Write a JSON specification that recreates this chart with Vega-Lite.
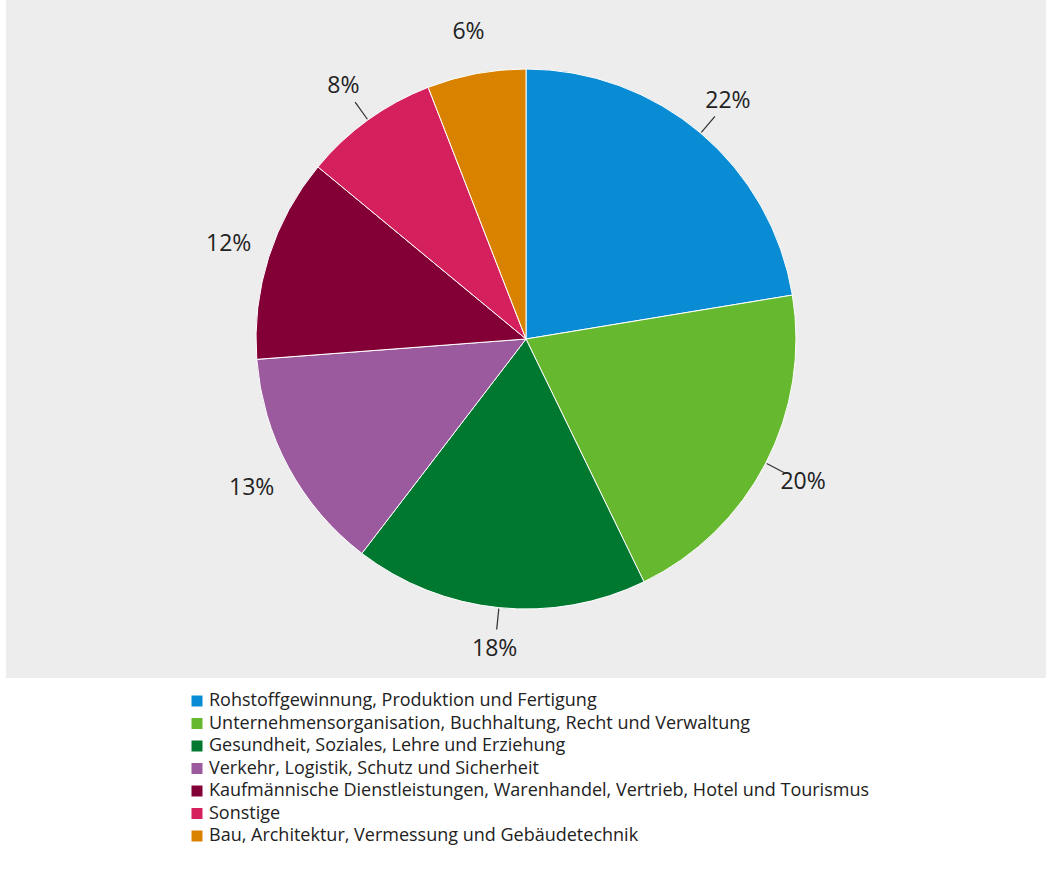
{
  "$schema": "https://vega.github.io/schema/vega-lite/v6.json",
  "autosize": {"type": "none"},
  "padding": {"left": 6, "top": 0, "right": 13, "bottom": 198},
  "width": 1040,
  "height": 678,
  "background": "white",
  "view": {"fill": "#ededed", "stroke": null},
  "config": {
    "font": "Open Sans"
  },
  "data": {
    "values": [
      {"k": 1, "cat": "Rohstoffgewinnung, Produktion und Fertigung", "v": 0.224},
      {"k": 2, "cat": "Unternehmensorganisation, Buchhaltung, Recht und Verwaltung", "v": 0.204},
      {"k": 3, "cat": "Gesundheit, Soziales, Lehre und Erziehung", "v": 0.176},
      {"k": 4, "cat": "Verkehr, Logistik, Schutz und Sicherheit", "v": 0.134},
      {"k": 5, "cat": "Kaufmännische Dienstleistungen, Warenhandel, Vertrieb, Hotel und Tourismus", "v": 0.122},
      {"k": 6, "cat": "Sonstige", "v": 0.081},
      {"k": 7, "cat": "Bau, Architektur, Vermessung und Gebäudetechnik", "v": 0.059}
    ]
  },
  "layer": [
    {
      "mark": {"type": "arc", "outerRadius": 270, "stroke": "white", "strokeWidth": 1},
      "encoding": {
        "theta": {"field": "v", "type": "quantitative", "stack": true, "scale": {"domain": [0, 1]}},
        "order": {"field": "k", "type": "quantitative"},
        "color": {
          "field": "cat",
          "type": "nominal",
          "sort": null,
          "scale": {
            "domain": [
              "Rohstoffgewinnung, Produktion und Fertigung",
              "Unternehmensorganisation, Buchhaltung, Recht und Verwaltung",
              "Gesundheit, Soziales, Lehre und Erziehung",
              "Verkehr, Logistik, Schutz und Sicherheit",
              "Kaufmännische Dienstleistungen, Warenhandel, Vertrieb, Hotel und Tourismus",
              "Sonstige",
              "Bau, Architektur, Vermessung und Gebäudetechnik"
            ],
            "range": ["#0A8CD4", "#66B92F", "#00782F", "#9C5A9E", "#830037", "#D4205C", "#D98200"]
          },
          "legend": {
            "orient": "none",
            "legendX": 182,
            "legendY": 692,
            "title": null,
            "symbolType": "square",
            "symbolSize": 121,
            "symbolStrokeWidth": 0,
            "symbolOpacity": 1,
            "labelFontSize": 18,
            "labelFont": "Open Sans",
            "labelColor": "#222222",
            "labelLimit": 0,
            "labelOffset": 3,
            "rowPadding": 4.5
          }
        }
      }
    },
    {
      "transform": [
        {"window": [{"op": "sum", "field": "v", "as": "cum"}], "sort": [{"field": "k"}], "frame": [null, 0]},
        {"calculate": "datum.cum - datum.v / 2 - 0.00035", "as": "a1"},
        {"calculate": "datum.cum - datum.v / 2 + 0.00035", "as": "a2"},
        {"filter": "datum.k == 1 || datum.k == 2 || datum.k == 3 || datum.k == 6"}
      ],
      "mark": {"type": "arc", "innerRadius": 271, "outerRadius": 292, "color": "#333333"},
      "encoding": {
        "theta": {"field": "a1", "type": "quantitative", "stack": null, "scale": {"domain": [0, 1]}},
        "theta2": {"field": "a2"}
      }
    },
    {
      "mark": {"type": "text", "radius": 312, "fontSize": 23, "font": "Open Sans", "color": "#222222"},
      "encoding": {
        "theta": {"field": "v", "type": "quantitative", "stack": true, "scale": {"domain": [0, 1]}},
        "order": {"field": "k", "type": "quantitative"},
        "text": {"field": "v", "type": "quantitative", "format": ".0%"}
      }
    }
  ]
}
